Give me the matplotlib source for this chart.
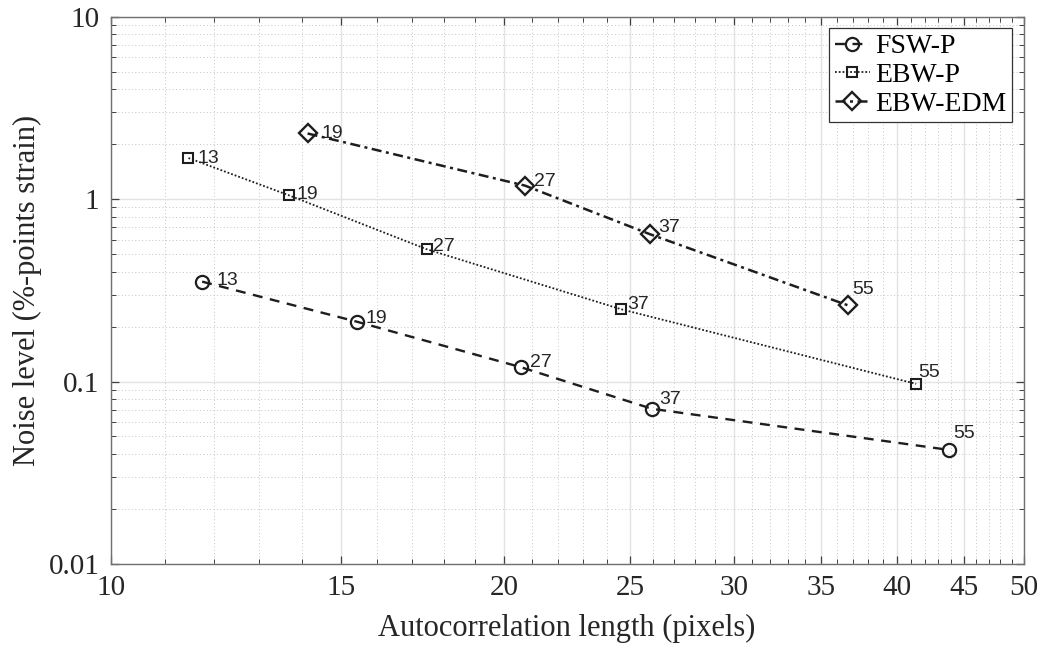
import matplotlib
matplotlib.use("Agg")
import matplotlib.pyplot as plt
from matplotlib.ticker import FixedLocator, NullFormatter, LogLocator

# ---- data ----
fsw_x = [11.75, 15.43, 20.60, 25.97, 43.84]
fsw_y = [0.353, 0.213, 0.120, 0.0709, 0.0422]
fsw_lab = ["13", "19", "27", "37", "55"]

ebwp_x = [11.47, 13.69, 17.46, 24.60, 41.37]
ebwp_y = [1.68, 1.05, 0.531, 0.249, 0.0971]
ebwp_lab = ["13", "19", "27", "37", "55"]

edm_x = [14.15, 20.76, 25.88, 36.67]
edm_y = [2.29, 1.186, 0.642, 0.262]
edm_lab = ["19", "27", "37", "55"]

series_names = ["FSW-P", "EBW-P", "EBW-EDM"]
x_ticks = [10, 15, 20, 25, 30, 35, 40, 45, 50]
y_ticks = [0.01, 0.1, 1, 10]
y_tick_labels = ["0.01", "0.1", "1", "10"]

# ---- style ----
serif = ["Liberation Serif", "DejaVu Serif"]
sans = ["Liberation Sans", "DejaVu Sans"]
ink = "#1e1e1e"

fig = plt.figure(figsize=(10.41, 6.45), dpi=100)
ax = fig.add_axes([0.1063, 0.1256, 0.8770, 0.8485])
ax.set_xscale("log")
ax.set_yscale("log")

l1, = ax.plot(fsw_x, fsw_y, color=ink, lw=1.7, dashes=(4.2, 3.2),
              marker="o", ms=9.5, mfc="none", mec=ink, mew=1.6, label=series_names[0])
l2, = ax.plot(ebwp_x, ebwp_y, color=ink, lw=1.3, linestyle=(0, (1, 1.1)),
              marker="s", ms=7.5, mfc="none", mec=ink, mew=1.5, label=series_names[1])
l3, = ax.plot(edm_x, edm_y, color=ink, lw=1.8, dashes=(4.0, 1.8, 1.2, 1.8),
              marker="D", ms=9.5, mfc="none", mec=ink, mew=1.7, label=series_names[2])

# label offsets in points (dx, dy)
fsw_off = [(10.5, 0.5), (6.5, 2.5), (6.5, 3.5), (5, 7), (3, 11.5)]
ebwp_off = [(6.5, 0), (5.5, 0.5), (4.5, 2), (4.5, 3.5), (1.5, 8.5)]
edm_off = [(10, 0), (6.5, 3), (6, 4.5), (3.5, 11.5)]

for xs, ys, labs, offs in [(fsw_x, fsw_y, fsw_lab, fsw_off),
                           (ebwp_x, ebwp_y, ebwp_lab, ebwp_off),
                           (edm_x, edm_y, edm_lab, edm_off)]:
    for x, y, t, (dx, dy) in zip(xs, ys, labs, offs):
        ax.annotate(t, (x, y), xytext=(dx, dy), textcoords="offset points",
                    ha="left", va="center", fontsize=14, family=sans, color="#262626")

ax.set_xlim(10, 50)
ax.set_ylim(0.01, 10)

ax.xaxis.set_major_locator(FixedLocator(x_ticks))
ax.set_xticklabels([str(v) for v in x_ticks])
ax.xaxis.set_minor_locator(FixedLocator([v for v in range(10, 51) if v % 5 != 0]))
ax.xaxis.set_minor_formatter(NullFormatter())

ax.yaxis.set_major_locator(FixedLocator(y_ticks))
ax.set_yticklabels(y_tick_labels)
ax.yaxis.set_minor_locator(LogLocator(base=10, subs=range(2, 10)))
ax.yaxis.set_minor_formatter(NullFormatter())

axis_col = "#707070"
for s in ax.spines.values():
    s.set_color(axis_col)
    s.set_linewidth(1.0)
ax.tick_params(which="both", direction="in", top=True, right=True, color="#404040")
ax.tick_params(which="major", length=6, width=0.9)
ax.tick_params(which="minor", length=3.5, width=0.7)
ax.tick_params(axis="x", which="major", pad=8, labelsize=21, labelcolor="#262626")
ax.tick_params(axis="y", which="major", pad=8, labelsize=21, labelcolor="#262626")
for lab in ax.get_xticklabels() + ax.get_yticklabels():
    lab.set_family(serif)

ax.grid(True, which="major", color="#e2e2e2", lw=1.0, linestyle="-")
ax.grid(True, which="minor", color="#c4c4c4", lw=0.7, linestyle=(0, (1, 2.5)))
ax.set_axisbelow(True)

ax.set_xlabel("Autocorrelation length (pixels)", fontsize=22, family=serif,
              color="#262626", labelpad=9)
ax.set_ylabel("Noise level (%-points strain)", fontsize=22, family=serif,
              color="#262626", labelpad=5)

leg = ax.legend(handles=[l1, l2, l3], loc="upper right",
                prop={"family": serif, "size": 20}, frameon=True, fancybox=False,
                edgecolor="#333333", framealpha=1, borderaxespad=0.42,
                handlelength=1.25, handletextpad=0.2, labelspacing=0.12,
                borderpad=0.2)
leg.get_frame().set_linewidth(0.9)

fig.savefig("out.png", dpi=100)
